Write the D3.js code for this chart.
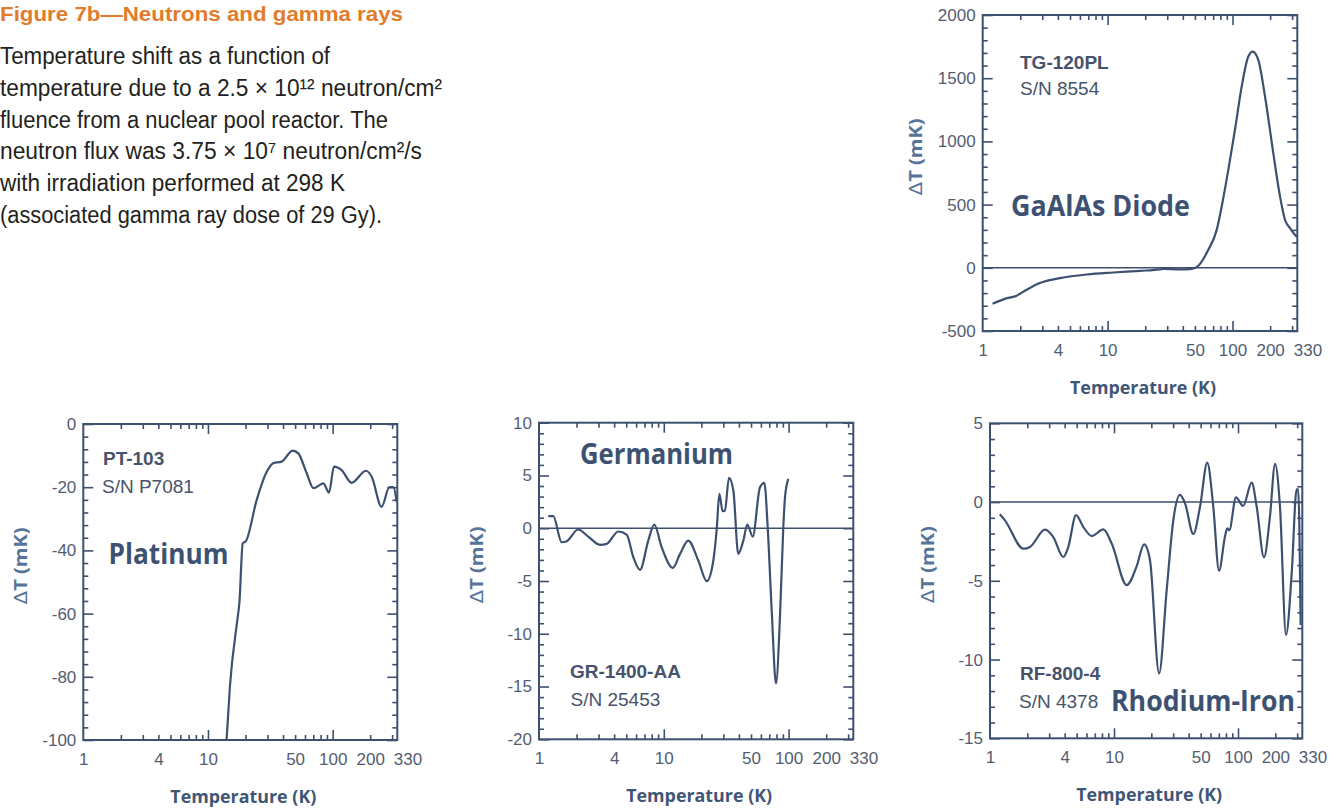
<!DOCTYPE html>
<html><head><meta charset="utf-8">
<script src="https://cdn.jsdelivr.net/npm/d3@7"></script>
<style>body{margin:0;background:#fff;}svg{display:block;}</style>
</head><body>
<svg id="chart" width="1337" height="810"></svg>
<script>
// ---------- DATA ----------
const xTickLabels = [1, 4, 10, 50, 100, 200, 330];
const xMajorTicks = [10, 100];
const xMinorTicks = [2, 3, 4, 5, 6, 7, 8, 9, 20, 30, 40, 50, 60, 70, 80, 90, 200, 300];

const gaTemps  = [1.2, 1.56, 1.87, 1.99, 2.25, 2.87, 4.16, 6.8, 11.1, 18.2, 26.3, 28, 38, 45.7, 51.6, 64, 74.7, 81.9, 92.5, 104.6, 118.4, 133.7, 145, 160.8, 182, 212, 240, 263, 288.5, 316, 328];
const gaValues = [-285, -240, -221, -205, -174, -121, -82, -53, -37, -24, -12, -8, -12, -10, 5, 142, 300, 485, 775, 1092, 1434, 1672, 1711, 1645, 1355, 907, 564, 380, 314, 261, 245];
const gaYTicks = [2000, 1500, 1000, 500, 0, -500];

const ptTemps  = [14.1, 15.0, 17.2, 17.85, 19.0, 20.2, 24.6, 29.6, 33.4, 39, 47.8, 53, 61.9, 70, 84.2, 93.5, 102.5, 118, 142, 185, 205.7, 247, 285, 307, 326];
const ptValues = [-100, -83, -62, -56.7, -37.8, -37, -24, -15.1, -12.4, -11.9, -8.4, -9.3, -15.6, -20.3, -18.8, -21.7, -13.5, -14.6, -18.6, -14.8, -16.7, -26.2, -20, -20, -24.6];
const ptYTicks = [0, -20, -40, -60, -80, -100];

const geTemps  = [1.187, 1.30, 1.52, 1.67, 2.06, 2.48, 3.08, 3.49, 4.32, 5.04, 5.70, 6.45, 7.51, 8.39, 9.62, 11.8, 13.5, 15.7, 18.9, 22.1, 24.7, 26.5, 27.9, 29.6, 30.9, 33.3, 36.1, 39.5, 43.4, 46.7, 51.6, 59, 63.9, 68, 73.2, 79.3, 85.3, 90.7, 93.6, 99.5];
const geValues = [1.14, 1.14, -1.33, -1.23, -0.12, -0.79, -1.57, -1.48, -0.31, -0.6, -2.75, -3.95, -1.17, 0.35, -1.8, -3.75, -2.43, -1.17, -3.06, -5.02, -3.37, -0.22, 3.26, 1.61, 1.68, 4.78, 3.57, -2.43, -1.17, 0.35, -0.79, 3.88, 4.3, 0.1, -7.75, -14.7, -8.4, 0.1, 2.94, 4.68];
const geYTicks = [10, 5, 0, -5, -10, -15, -20];

const rfTemps  = [1.20, 1.32, 1.86, 2.10, 2.78, 3.24, 3.90, 4.28, 4.94, 5.65, 6.61, 8.20, 9.58, 12.66, 15.2, 17.5, 19.5, 23.1, 26.6, 30.1, 34.0, 37.4, 43.6, 49.4, 56.5, 63.2, 70.3, 78.5, 81.9, 85.1, 96.3, 110, 129, 141.5, 162, 181, 199, 218, 244, 271, 297, 306, 320];
const rfValues = [-0.78, -1.16, -2.96, -2.85, -1.75, -2.22, -3.49, -2.85, -0.83, -1.57, -2.16, -1.74, -2.63, -5.27, -4.1, -2.69, -3.68, -10.88, -5.59, -1.14, 0.45, -0.08, -2.03, -0.3, 2.5, -0.3, -4.36, -2.2, -1.67, -1.78, 0.3, -0.25, 1.23, -0.3, -3.51, -0.93, 2.42, -0.3, -8.44, -4.53, 0.81, 0.81, -7.8];
const rfYTicks = [5, 0, -5, -10, -15];

// ---------- TEXT ----------
const titleText = "Figure 7b\u2014Neutrons and gamma rays";
const bodyLines = [
  "Temperature shift as a function of",
  "temperature due to a 2.5 \u00d7 10\u00b9\u00b2 neutron/cm\u00b2",
  "fluence from a nuclear pool reactor. The",
  "neutron flux was 3.75 \u00d7 10\u2077 neutron/cm\u00b2/s",
  "with irradiation performed at 298 K",
  "(associated gamma ray dose of 29 Gy)."
];
const bodyWidths = [330, 442, 388, 422, 345, 382];

// ---------- STYLE / LAYOUT ----------
const INK = "#3e5070";
const TICKTXT = "#535d70";
const AXTITLE = "#3f5675";
const DELTA = "#56749a";
const svg = d3.select("#chart");
svg.append("rect").attr("width", 1337).attr("height", 810).attr("fill", "#fff");

// title block
svg.append("text").attr("x", 0).attr("y", 21)
  .attr("font-family", "Liberation Sans, Arial, sans-serif").attr("font-weight", 700)
  .attr("font-size", 21).attr("fill", "#e07c2c")
  .attr("textLength", 403).attr("lengthAdjust", "spacingAndGlyphs")
  .text(titleText);

bodyLines.forEach((line, i) => {
  svg.append("text").attr("x", 0).attr("y", 64 + i * 31.8)
    .attr("font-family", "Liberation Sans, Arial, sans-serif")
    .attr("font-size", 23.5).attr("fill", "#231f20")
    .attr("textLength", bodyWidths[i]).attr("lengthAdjust", "spacingAndGlyphs")
    .text(line);
});

const panels = [
  { left: 982.7, right: 1297.3, top: 15, bottom: 331, domain: [-500, 2000], minor: 100,
    yTicks: gaYTicks, temps: gaTemps, values: gaValues, zero: true,
    model: ["TG-120PL", 1020, 68.5], sn: ["S/N 8554", 1020, 94.5],
    name: ["GaAlAs Diode", 1011, 215.5, 179] },
  { left: 83.3, right: 397.3, top: 424, bottom: 740, domain: [-100, 0], minor: 4,
    yTicks: ptYTicks, temps: ptTemps, values: ptValues, zero: false,
    model: ["PT-103", 103, 464.5], sn: ["S/N P7081", 102, 492.5],
    name: ["Platinum", 108.5, 563.5, 120] },
  { left: 539, right: 853.3, top: 422.7, bottom: 739.3, domain: [-20, 10], minor: 1,
    yTicks: geYTicks, temps: geTemps, values: geValues, zero: true,
    model: ["GR-1400-AA", 570, 677.5], sn: ["S/N 25453", 570.5, 706],
    name: ["Germanium", 580, 463.5, 153] },
  { left: 990, right: 1302.3, top: 423.3, bottom: 738.3, domain: [-15, 5], minor: 1,
    yTicks: rfYTicks, temps: rfTemps, values: rfValues, zero: true,
    model: ["RF-800-4", 1020, 680], sn: ["S/N 4378", 1019, 707.5],
    name: ["Rhodium-Iron", 1111, 711, 184] }
];

panels.forEach((p, idx) => {
  const x = d3.scaleLog().domain([1, 330]).range([p.left, p.right]);
  const y = d3.scaleLinear().domain(p.domain).range([p.bottom, p.top]);
  const g = svg.append("g");
  const yMinor = d3.range(p.domain[0], p.domain[1] + 1e-9, p.minor).filter(v => !p.yTicks.includes(v));

  function tickAxis(axis, tr) {
    const a = g.append("g").attr("transform", tr).call(axis);
    a.select(".domain").remove();
    a.selectAll("line").attr("stroke", INK).attr("stroke-width", 1.6);
    a.selectAll("text").remove();
  }
  // bottom & top ticks (inward)
  tickAxis(d3.axisBottom(x).tickValues(xMajorTicks).tickSize(-10), `translate(0,${p.bottom})`);
  tickAxis(d3.axisBottom(x).tickValues(xMinorTicks).tickSize(-5), `translate(0,${p.bottom})`);
  tickAxis(d3.axisTop(x).tickValues(xMajorTicks).tickSize(-10), `translate(0,${p.top})`);
  tickAxis(d3.axisTop(x).tickValues(xMinorTicks).tickSize(-5), `translate(0,${p.top})`);
  // left & right ticks
  tickAxis(d3.axisLeft(y).tickValues(p.yTicks).tickSize(-10), `translate(${p.left},0)`);
  tickAxis(d3.axisLeft(y).tickValues(yMinor).tickSize(-5), `translate(${p.left},0)`);
  tickAxis(d3.axisRight(y).tickValues(p.yTicks).tickSize(-10), `translate(${p.right},0)`);
  tickAxis(d3.axisRight(y).tickValues(yMinor).tickSize(-5), `translate(${p.right},0)`);

  // frame
  g.append("rect").attr("x", p.left).attr("y", p.top)
    .attr("width", p.right - p.left).attr("height", p.bottom - p.top)
    .attr("fill", "none").attr("stroke", INK).attr("stroke-width", 2);

  // zero line
  if (p.zero) {
    g.append("line").attr("x1", p.left).attr("x2", p.right)
      .attr("y1", y(0)).attr("y2", y(0)).attr("stroke", INK).attr("stroke-width", 1.6);
  }

  // labels on axes
  const xl = g.append("g").attr("transform", `translate(0,${p.bottom})`)
    .call(d3.axisBottom(x).tickValues(xTickLabels).tickSize(0).tickPadding(13).tickFormat(d => String(d)));
  xl.select(".domain").remove();
  xl.selectAll("text").attr("font-family", "Liberation Sans, Arial, sans-serif")
    .attr("font-size", 17).attr("fill", TICKTXT);
  xl.selectAll(".tick").filter(d => d === 330).select("text")
    .attr("text-anchor", "start").attr("dx", -4);

  const yl = g.append("g").attr("transform", `translate(${p.left},0)`)
    .call(d3.axisLeft(y).tickValues(p.yTicks).tickSize(0).tickPadding(7).tickFormat(d => String(d)));
  yl.select(".domain").remove();
  yl.selectAll("text").attr("font-family", "Liberation Sans, Arial, sans-serif")
    .attr("font-size", 17).attr("fill", TICKTXT);

  // axis titles
  const cx = (p.left + p.right) / 2 + 3;
  g.append("text").attr("x", cx).attr("y", p.bottom + 63)
    .attr("text-anchor", "middle").attr("font-family", "Open Sans, Noto Sans, sans-serif")
    .attr("font-weight", 700).attr("font-size", 18.5).attr("fill", AXTITLE)
    .attr("textLength", 146).attr("lengthAdjust", "spacingAndGlyphs")
    .text("Temperature (K)");
  const cy = (p.top + p.bottom) / 2 - 16;
  const lx = p.left - (idx === 0 ? 68 : 63) + 7;
  const yt = g.append("text").attr("transform", `translate(${lx},${cy}) rotate(-90)`)
    .attr("text-anchor", "middle").attr("font-family", "Open Sans, Noto Sans, sans-serif")
    .attr("font-weight", 700).attr("font-size", 18.5).attr("fill", DELTA)
    .attr("textLength", 77).attr("lengthAdjust", "spacingAndGlyphs");
  yt.append("tspan").attr("font-weight", 400).attr("font-family", "DejaVu Sans, sans-serif").text("\u0394");
  yt.append("tspan").text("T (mK)");

  // data curve
  const clipId = "clip" + idx;
  svg.append("clipPath").attr("id", clipId).append("rect")
    .attr("x", p.left).attr("y", p.top).attr("width", p.right - p.left).attr("height", p.bottom - p.top);
  const pts = p.temps.map((t, i) => [t, p.values[i]]);
  g.append("path").datum(pts).attr("clip-path", `url(#${clipId})`)
    .attr("fill", "none").attr("stroke", INK).attr("stroke-width", 2.2)
    .attr("stroke-linejoin", "round")
    .attr("d", d3.line().x(d => x(d[0])).y(d => y(d[1])).curve(d3.curveMonotoneX));

  // panel annotations
  g.append("text").attr("x", p.model[1]).attr("y", p.model[2])
    .attr("font-family", "Liberation Sans, Arial, sans-serif").attr("font-weight", 700)
    .attr("font-size", 19).attr("fill", "#47536b").text(p.model[0]);
  g.append("text").attr("x", p.sn[1]).attr("y", p.sn[2])
    .attr("font-family", "Liberation Sans, Arial, sans-serif")
    .attr("font-size", 19).attr("fill", "#47536b").text(p.sn[0]);
  g.append("text").attr("x", p.name[1]).attr("y", p.name[2])
    .attr("font-family", "Open Sans, Noto Sans, sans-serif").attr("font-weight", 700)
    .attr("font-size", 28).attr("fill", "#3d5273")
    .attr("textLength", p.name[3]).attr("lengthAdjust", "spacingAndGlyphs")
    .text(p.name[0]);
});
</script>
</body></html>
